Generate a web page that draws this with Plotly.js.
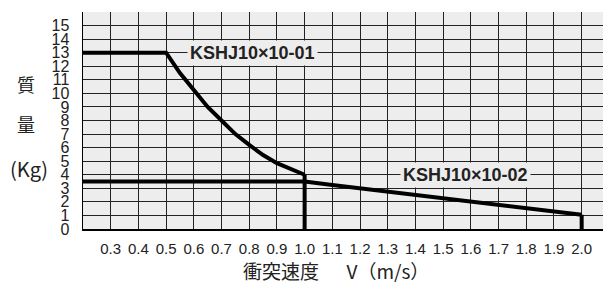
<!DOCTYPE html>
<html>
<head>
<meta charset="utf-8">
<script src="https://cdn.plot.ly/plotly-3.0.1.min.js"></script>
<style>html,body{margin:0;padding:0;background:#fff;}#chart{width:605px;height:282px;}</style>
</head>
<body>
<div id="chart"></div>
<script>
// Series KSHJ10x10-01 (mass limit vs impact speed)
const speed01 = [0.2, 0.5, 0.55, 0.6, 0.65, 0.7, 0.75, 0.8, 0.85, 0.9, 0.95, 1.0];
const mass01  = [13, 13, 11.5, 10.2, 9.0, 8.0, 7.0, 6.2, 5.45, 4.85, 4.4, 4.0];
// Series KSHJ10x10-02
const speed02 = [0.2, 1.0, 1.1, 1.2, 1.3, 1.4, 1.5, 1.6, 1.7, 1.8, 1.9, 2.0];
const mass02  = [3.5, 3.5, 3.25, 3.01, 2.77, 2.52, 2.28, 2.03, 1.79, 1.54, 1.3, 1.05];
// Drop lines at the speed limits
const limit01 = {x: [1.0, 1.0], y: [4.0, 0]};
const limit02 = {x: [2.0, 2.0], y: [1.05, 0]};
// Tick labels
const xTicks = [0.3,0.4,0.5,0.6,0.7,0.8,0.9,1.0,1.1,1.2,1.3,1.4,1.5,1.6,1.7,1.8,1.9,2.0];
const xTickText = xTicks.map(v => v.toFixed(1));
const yTicks = [0,1,2,3,4,5,6,7,8,9,10,11,12,13,14,15,16];
const yTickText = yTicks.map(v => v === 16 ? '' : String(v));
const label01 = 'KSHJ10×10-01';
const label02 = 'KSHJ10×10-02';

const lineStyle = {color: '#000', width: 4};
const traces = [
  {x: speed01, y: mass01, mode: 'lines', line: lineStyle, hoverinfo: 'skip'},
  {x: speed02, y: mass02, mode: 'lines', line: lineStyle, hoverinfo: 'skip'},
  {x: limit01.x, y: limit01.y, mode: 'lines', line: lineStyle, hoverinfo: 'skip'},
  {x: limit02.x, y: limit02.y, mode: 'lines', line: lineStyle, hoverinfo: 'skip'}
];

const tickFont = {family: 'Liberation Sans, Arial, sans-serif', color: '#222'};
const cjk = 'Noto Sans CJK JP, sans-serif';
const layout = {
  width: 605, height: 282,
  margin: {l: 83, r: 2, t: 12, b: 53},
  paper_bgcolor: '#fff',
  plot_bgcolor: '#ededed',
  showlegend: false,
  xaxis: {
    range: [0.2, 2.077], tickvals: xTicks, ticktext: xTickText,
    showgrid: true, gridcolor: '#222', gridwidth: 1,
    zeroline: false, showline: true, linecolor: '#000', linewidth: 1.5,
    ticks: '', ticklabelstandoff: 5,
    tickfont: Object.assign({size: 15}, tickFont),
    fixedrange: true
  },
  yaxis: {
    range: [0, 16], tickvals: yTicks, ticktext: yTickText,
    showgrid: true, gridcolor: '#222', gridwidth: 1,
    zeroline: false, showline: true, linecolor: '#000', linewidth: 1.5,
    ticks: '', ticklabelstandoff: 9,
    tickfont: Object.assign({size: 16}, tickFont),
    fixedrange: true
  },
  annotations: [
    {x: 0.812, y: 13, xref: 'x', yref: 'y', text: label01, showarrow: false,
     xanchor: 'center', yanchor: 'middle',
     bgcolor: '#ededed', borderpad: 2,
     font: {family: 'Liberation Sans, Arial, sans-serif', size: 18, weight: 'bold', color: '#222'}},
    {x: 1.579, y: 4, xref: 'x', yref: 'y', text: label02, showarrow: false,
     xanchor: 'center', yanchor: 'middle',
     bgcolor: '#ededed', borderpad: 2,
     font: {family: 'Liberation Sans, Arial, sans-serif', size: 18, weight: 'bold', color: '#222'}},
    {x: -0.1096, y: 0.666, xref: 'paper', yref: 'paper', text: '質', showarrow: false,
     xanchor: 'center', yanchor: 'middle',
     font: {family: cjk, size: 18, color: '#222'}},
    {x: -0.1096, y: 0.484, xref: 'paper', yref: 'paper', text: '量', showarrow: false,
     xanchor: 'center', yanchor: 'middle',
     font: {family: cjk, size: 18, color: '#222'}},
    {x: -0.103, y: 0.281, xref: 'paper', yref: 'paper', text: '(Kg)', showarrow: false,
     xanchor: 'center', yanchor: 'middle',
     font: {family: cjk, size: 20, color: '#222'}},
    {x: 0.487, y: -0.19, xref: 'paper', yref: 'paper', text: '衝突速度　\u00a0\u00a0V（m/s）', showarrow: false,
     xanchor: 'center', yanchor: 'middle',
     font: {family: cjk, size: 19, color: '#222'}}
  ]
};

Plotly.newPlot('chart', traces, layout, {displayModeBar: false, staticPlot: true});
</script>
</body>
</html>
